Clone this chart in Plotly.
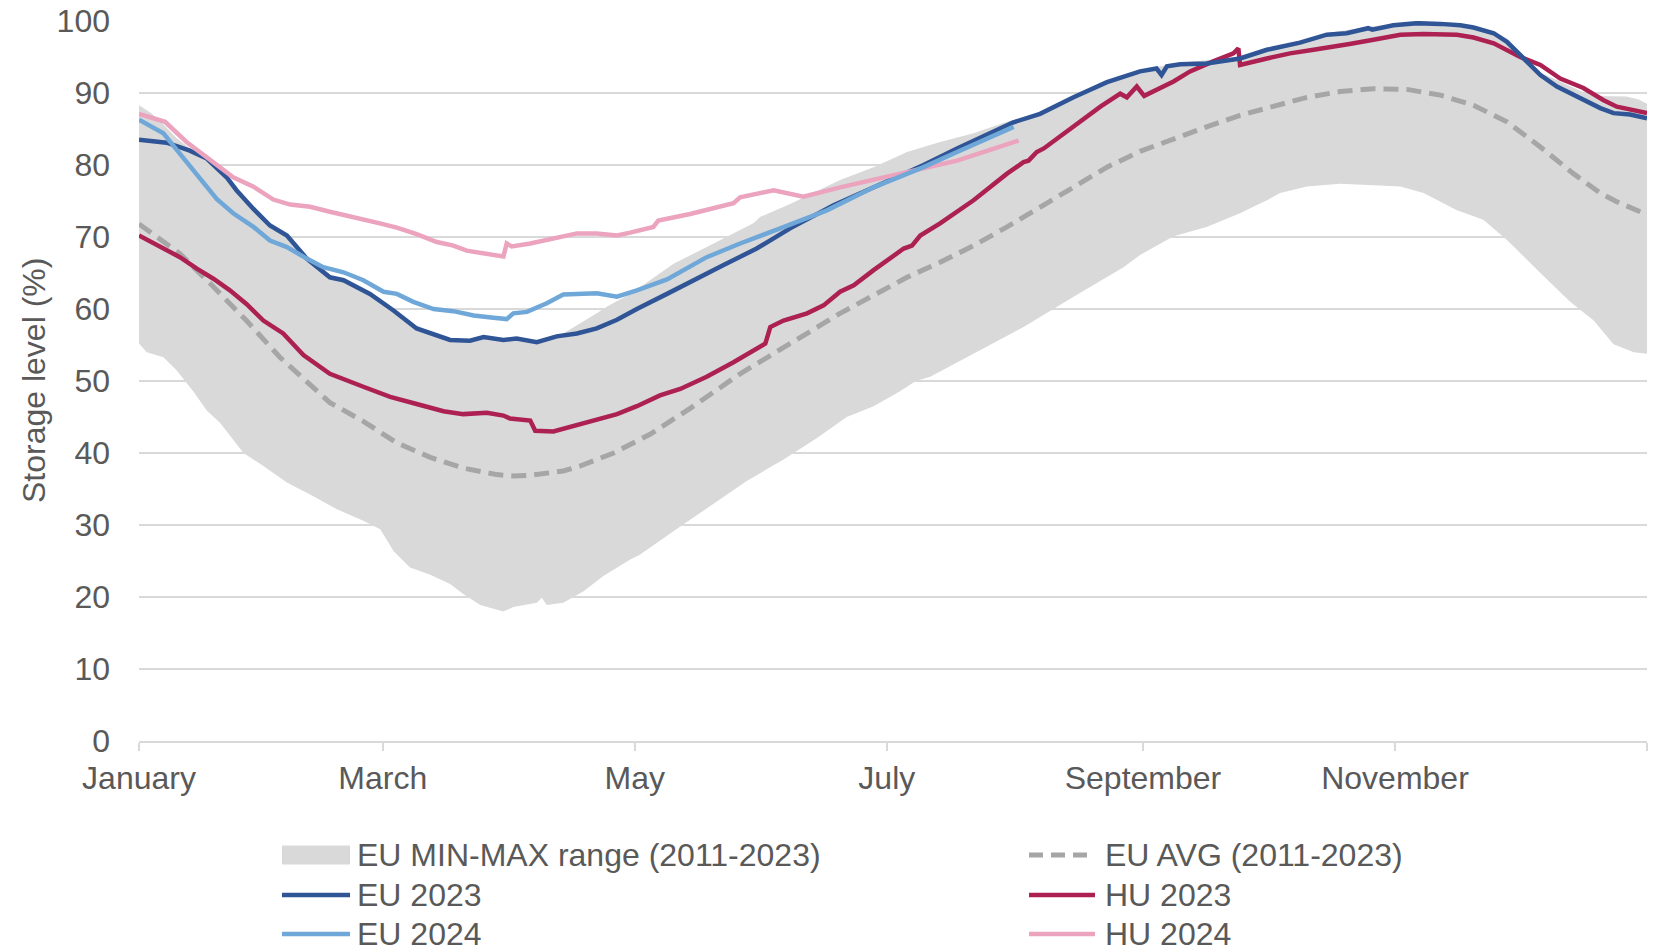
import pandas as pd
import plotly.graph_objects as go

# ---------------- data (day of year, storage level %) ----------------
BASE = pd.Timestamp("2023-01-01")

eu_max_day = [0, 3, 6, 9, 12.3, 16.4, 21.2, 23.6, 27.7, 31.7, 35.8, 40.6, 46.2, 49.5, 55.9, 61.6,
              67.2, 70.5, 75.3, 80.1, 83.4, 88.2, 91.4, 96.3, 98.7, 102.7, 110.8, 113.2, 118.9,
              123.7, 129.4, 137.4, 147.5, 148.7, 150.4, 157.6, 169.7, 177.8, 185.9, 193.9, 202,
              210.1, 218.1, 226.2, 234.3, 242.3, 252, 266.5, 273, 281, 287.5, 297.5, 309.3, 319.8,
              327.9, 331.1, 335.1, 339.2, 343.2, 348.8, 352, 360, 363, 365]
eu_max_val = [88.3, 87.2, 85.6, 83.8, 82.3, 81.2, 78.5, 76.7, 74.1, 71.8, 70.4, 67.2, 64.6, 64.2,
              62.3, 60.0, 57.5, 56.8, 55.9, 55.8, 56.3, 55.9, 56.1, 55.6, 56.0, 56.6, 59.4, 60.3,
              62.1, 64.0, 66.3, 68.6, 71.6, 71.9, 72.8, 74.6, 77.9, 79.7, 81.8, 83.2, 84.4, 86.0,
              87.3, 89.6, 91.7, 93.2, 94.2, 95.0, 96.2, 97.2, 98.3, 99.2, 99.9, 99.6, 98.5, 97.3,
              95.0, 92.8, 91.8, 90.3, 89.6, 89.5, 89.1, 88.5]

eu_min_day = [0, 1.9, 5.9, 9.1, 13.2, 16.4, 19.6, 25.3, 30.1, 35.8, 42.2, 47.9, 54.3, 58.4, 61.6,
              65.6, 70.5, 75.3, 78.5, 82.6, 88.2, 90.6, 96.3, 97.5, 98.7, 102.7, 107.6, 112.4,
              118.9, 121.3, 131.8, 139.9, 147.1, 156, 164.1, 171.3, 177.8, 184, 188, 191.5, 202,
              214.1, 226.2, 238.3, 242.3, 250.4, 258.4, 266.5, 273, 276.2, 282.7, 290.7, 298.8,
              305.3, 310.9, 319, 325.4, 331.1, 339.2, 346.4, 352.1, 356.9, 361.8, 365]
eu_min_val = [55.2, 54.0, 53.3, 51.5, 48.5, 45.9, 44.2, 40.0, 38.2, 35.9, 34.0, 32.2, 30.6, 29.4,
              26.4, 24.1, 23.1, 21.8, 20.4, 18.9, 18.0, 18.6, 19.2, 19.9, 18.9, 19.2, 20.8, 22.9,
              25.2, 25.9, 30.1, 33.3, 36.1, 39.1, 42.1, 45.0, 46.5, 48.5, 50.0, 50.6, 53.8, 57.5,
              61.7, 65.8, 67.5, 70.1, 71.4, 73.3, 75.1, 76.1, 77.0, 77.4, 77.2, 77.0, 76.1, 73.7,
              72.4, 69.6, 65.0, 61.0, 58.4, 55.1, 54.0, 53.8]

eu_avg_day = [0, 9.9, 18, 26, 34.1, 42.2, 46.2, 54.3, 62.4, 70.5, 78.5, 86.6, 90.6, 94.7, 102.7,
              106.8, 114.9, 123.7, 133.4, 145.5, 153.6, 161.7, 169.7, 177.8, 185.9, 193.9, 202,
              210.1, 218.1, 226.2, 234.3, 242.3, 250.4, 258.4, 266.5, 274.6, 282.7, 290.7, 298.8,
              306.9, 315, 323, 331.1, 339.2, 347.2, 353.7, 357.7, 363.4]
eu_avg_val = [71.8, 67.7, 63.1, 58.4, 53.3, 49.2, 47.0, 44.4, 41.4, 39.4, 37.9, 37.0, 36.8, 36.9,
              37.5, 38.2, 40.0, 42.6, 46.2, 51.0, 53.8, 56.6, 59.4, 61.9, 64.4, 66.5, 68.8, 71.4,
              74.2, 76.9, 79.7, 81.9, 83.7, 85.3, 86.9, 88.2, 89.4, 90.2, 90.6, 90.5, 89.7, 88.3,
              86.0, 82.5, 78.8, 76.1, 74.9, 73.5]

eu2023_day = [0, 6.7, 12.3, 16.4, 21.2, 23.6, 27.7, 31.7, 35.8, 40.6, 46.2, 49.5, 55.9, 61.6, 67.2,
              70.5, 75.3, 80.1, 83.4, 88.2, 91.4, 96.3, 101.1, 106, 110.8, 115.7, 120.5, 127.8,
              133.4, 141.5, 149.5, 157.6, 168.1, 177.8, 189.9, 198, 206, 210.9, 211.5, 218.1,
              226.2, 234.3, 242.3, 246.3, 247.5, 248.8, 252, 258.4, 266.5, 273, 281, 287.5, 292.3,
              297.5, 298.5, 303.6, 309.3, 315, 319.8, 323, 327.9, 331.1, 335.1, 339.2, 343.2,
              348.8, 353.7, 356.9, 360.9, 365]
eu2023_val = [83.5, 83.1, 82.0, 80.9, 78.3, 76.5, 73.9, 71.6, 70.2, 67.0, 64.4, 64.0, 62.1, 59.8,
              57.3, 56.6, 55.7, 55.6, 56.1, 55.7, 55.9, 55.4, 56.2, 56.6, 57.3, 58.5, 60.0, 62.1,
              63.8, 66.1, 68.4, 71.2, 74.4, 76.9, 80.0, 82.3, 84.4, 85.7, 85.9, 87.1, 89.4, 91.5,
              93.0, 93.4, 92.5, 93.7, 94.0, 94.1, 94.8, 96.0, 97.0, 98.1, 98.3, 99.0, 98.8, 99.4,
              99.7, 99.6, 99.4, 99.1, 98.3, 97.1, 94.8, 92.5, 90.9, 89.3, 87.9, 87.2, 87.0, 86.5]

hu2023_day = [0, 5.9, 9.9, 14, 18, 22, 26, 30.1, 34.9, 39.8, 46.2, 54.3, 60.8, 67.2, 73.7, 78.5,
              84.2, 88.2, 89.8, 94.7, 95.9, 100.3, 106.8, 112.4, 115.7, 120.5, 126.1, 131, 137.4,
              143.9, 148, 151.6, 152.8, 156, 161.7, 165.7, 169.7, 173, 177.8, 185.1, 187.1, 189.1,
              193.9, 202, 210.1, 214.1, 215.3, 217.3, 219, 226.2, 232.7, 237.5, 239.1, 241.5,
              243.3, 250.4, 254.4, 260, 264.9, 266.1, 266.5, 273, 278.6, 284.3, 290.7, 293, 298.8,
              305.3, 310.9, 319, 323, 327.9, 334.3, 339.2, 344, 349.6, 354.5, 357.7, 365]
hu2023_val = [70.2, 68.4, 67.2, 65.6, 64.2, 62.6, 60.7, 58.4, 56.6, 53.6, 51.0, 49.2, 47.8, 46.8,
              45.8, 45.4, 45.6, 45.2, 44.8, 44.5, 43.1, 43.0, 44.0, 45.0, 45.4, 46.5, 48.0, 48.9,
              50.6, 52.6, 54.0, 55.2, 57.5, 58.4, 59.4, 60.5, 62.4, 63.3, 65.4, 68.4, 68.8, 70.2,
              71.9, 75.1, 78.8, 80.4, 80.6, 81.8, 82.3, 85.3, 88.1, 89.9, 89.4, 90.9, 89.6, 91.6,
              93.0, 94.4, 95.5, 96.2, 93.9, 94.8, 95.5, 96.0, 96.7, 96.8, 97.4, 98.1, 98.2, 98.1,
              97.7, 96.9, 95.0, 93.9, 92.0, 90.7, 89.0, 88.1, 87.2]

eu2024_day = [0, 5.9, 8.3, 11.5, 14.8, 18.8, 22.8, 27.7, 31.7, 35.8, 40.6, 44.6, 49.5, 54.3, 59.2,
              62.4, 66.4, 71.3, 76.1, 81, 85.8, 89, 90.6, 93.9, 98.7, 102.7, 110.8, 115.7, 120.5,
              127.8, 137.4, 145.5, 155.2, 166.5, 177.8, 189.9, 198, 206, 211.7]
eu2024_val = [86.3, 84.4, 82.7, 80.4, 78.1, 75.3, 73.3, 71.4, 69.5, 68.6, 67.0, 65.8, 65.1, 64.0,
              62.4, 62.1, 61.0, 60.0, 59.7, 59.1, 58.8, 58.6, 59.4, 59.6, 60.8, 62.0, 62.2, 61.7,
              62.6, 64.1, 67.2, 69.1, 71.2, 73.7, 76.9, 79.7, 81.8, 83.9, 85.3]

hu2024_day = [0, 6.3, 11.5, 16.4, 20.4, 22.8, 27.7, 32.5, 36.6, 41.4, 46.2, 50.3, 58.3, 62.4, 67.2,
              72.1, 76.1, 79.3, 83.4, 88.2, 89, 90.2, 94.7, 101, 106, 110.8, 115.7, 118.9, 124.5,
              125.7, 133.4, 143.9, 145.5, 153.6, 160.8, 169.7, 177.8, 189.9, 198, 206, 212.9]
hu2024_val = [87.1, 86.0, 83.2, 81.1, 79.3, 78.3, 77.0, 75.2, 74.5, 74.2, 73.5, 73.0, 71.9, 71.3,
              70.4, 69.3, 68.8, 68.1, 67.7, 67.3, 69.1, 68.7, 69.1, 69.8, 70.5, 70.5, 70.2, 70.6,
              71.4, 72.3, 73.2, 74.7, 75.5, 76.5, 75.6, 76.9, 78.0, 79.5, 80.6, 82.1, 83.4]

month_ticks = ["2023-01-01", "2023-03-01", "2023-05-01", "2023-07-01", "2023-09-01",
               "2023-11-01", "2024-01-01"]
month_labels = ["January", "March", "May", "July", "September", "November", ""]

# ---------------- styles ----------------
FONT = "Liberation Sans, Arial, sans-serif"
FS = 32
TXT = "#595959"
GRID = "#D9D9D9"
C_BAND = "#D9D9D9"
C_AVG = "#A6A6A6"
C_EU23 = "#2F5597"
C_HU23 = "#AD2152"
C_EU24 = "#6FA8D8"
C_HU24 = "#EBA3BE"
LW = 4.5
LW_AVG = 5

# page body has an 8px margin; figure sized so it fits the 1663x950 window
FIG_W, FIG_H = 1655, 942
M_L, M_R, M_T, M_B = 131, 16, 13, 209
PLOT_W = FIG_W - M_L - M_R
PLOT_H = FIG_H - M_T - M_B


def to_dates(days):
    return [BASE + pd.Timedelta(days=d) for d in days]


def px_x(px):  # page-pixel x -> paper fraction
    return (px - 8 - M_L) / PLOT_W


def px_y(py):  # page-pixel y -> paper fraction
    return (FIG_H - M_B - (py - 8)) / PLOT_H


fig = go.Figure()

fig.add_trace(go.Scatter(x=to_dates(eu_min_day), y=eu_min_val, mode="lines",
                         line=dict(width=0, color=C_BAND), showlegend=False,
                         hoverinfo="skip"))
fig.add_trace(go.Scatter(x=to_dates(eu_max_day), y=eu_max_val, mode="lines",
                         line=dict(width=0, color=C_BAND), fill="tonexty",
                         fillcolor=C_BAND, name="EU MIN-MAX range (2011-2023)",
                         showlegend=False))
fig.add_trace(go.Scatter(x=to_dates(eu_avg_day), y=eu_avg_val, mode="lines",
                         line=dict(width=LW_AVG, color=C_AVG, dash="15px,8px"),
                         name="EU AVG (2011-2023)", showlegend=False))
fig.add_trace(go.Scatter(x=to_dates(hu2023_day), y=hu2023_val, mode="lines",
                         line=dict(width=LW, color=C_HU23), name="HU 2023", showlegend=False))
fig.add_trace(go.Scatter(x=to_dates(eu2023_day), y=eu2023_val, mode="lines",
                         line=dict(width=LW, color=C_EU23), name="EU 2023", showlegend=False))
fig.add_trace(go.Scatter(x=to_dates(hu2024_day), y=hu2024_val, mode="lines",
                         line=dict(width=LW, color=C_HU24), name="HU 2024", showlegend=False))
fig.add_trace(go.Scatter(x=to_dates(eu2024_day), y=eu2024_val, mode="lines",
                         line=dict(width=LW, color=C_EU24), name="EU 2024", showlegend=False))

# ---------------- manual legend (two columns, three rows) ----------------
legend_items = [
    ("EU MIN-MAX range (2011-2023)", "rect", C_BAND, None, 0, 0),
    ("EU AVG (2011-2023)", "line", C_AVG, "14px,8px", 1, 0),
    ("EU 2023", "line", C_EU23, None, 0, 1),
    ("HU 2023", "line", C_HU23, None, 1, 1),
    ("EU 2024", "line", C_EU24, None, 0, 2),
    ("HU 2024", "line", C_HU24, None, 1, 2),
]
col_sym_px = [(282, 350), (1029, 1095)]
col_txt_px = [355, 1103]
row_px = [855, 895, 934]
for label, kind, color, dash, col, row in legend_items:
    x0 = px_x(col_sym_px[col][0])
    x1 = px_x(col_sym_px[col][1])
    y = px_y(row_px[row])
    if kind == "rect":
        fig.add_shape(type="rect", xref="paper", yref="paper", x0=x0, x1=x1,
                      y0=px_y(row_px[row] + 9.5), y1=px_y(row_px[row] - 9.5),
                      fillcolor=color, line=dict(width=0))
    else:
        fig.add_shape(type="line", xref="paper", yref="paper", x0=x0, x1=x1, y0=y, y1=y,
                      line=dict(color=color, width=LW_AVG if dash else LW, dash=dash))
    fig.add_annotation(text=label, xref="paper", yref="paper", x=px_x(col_txt_px[col]), y=y,
                       xanchor="left", yanchor="middle", showarrow=False,
                       font=dict(family=FONT, size=FS, color=TXT))

fig.add_annotation(text="Storage level (%)", xref="paper", yref="paper", x=px_x(34), y=0.5,
                   textangle=-90, xanchor="center", yanchor="middle", showarrow=False,
                   font=dict(family=FONT, size=FS, color=TXT))

fig.update_layout(
    width=FIG_W, height=FIG_H,
    margin=dict(l=M_L, r=M_R, t=M_T, b=M_B, pad=0),
    paper_bgcolor="white", plot_bgcolor="white",
    font=dict(family=FONT, size=FS, color=TXT),
    showlegend=False,
)
fig.update_xaxes(
    type="date", range=["2023-01-01", "2024-01-01"],
    tickvals=month_ticks, ticktext=month_labels,
    showgrid=False, showline=True, linecolor=GRID, linewidth=2,
    ticks="outside", ticklen=8, tickwidth=2, tickcolor=GRID,
    ticklabelstandoff=0, automargin=False, ticklabeloverflow="allow",
    tickfont=dict(family=FONT, size=FS, color=TXT),
)
fig.update_yaxes(
    range=[0, 100], dtick=10, tick0=0,
    showgrid=True, gridcolor=GRID, gridwidth=2,
    zeroline=False, showline=False, ticks="",
    ticklabelstandoff=28, automargin=False, ticklabeloverflow="allow",
    tickfont=dict(family=FONT, size=FS, color=TXT),
)

fig.write_html("out.html")
